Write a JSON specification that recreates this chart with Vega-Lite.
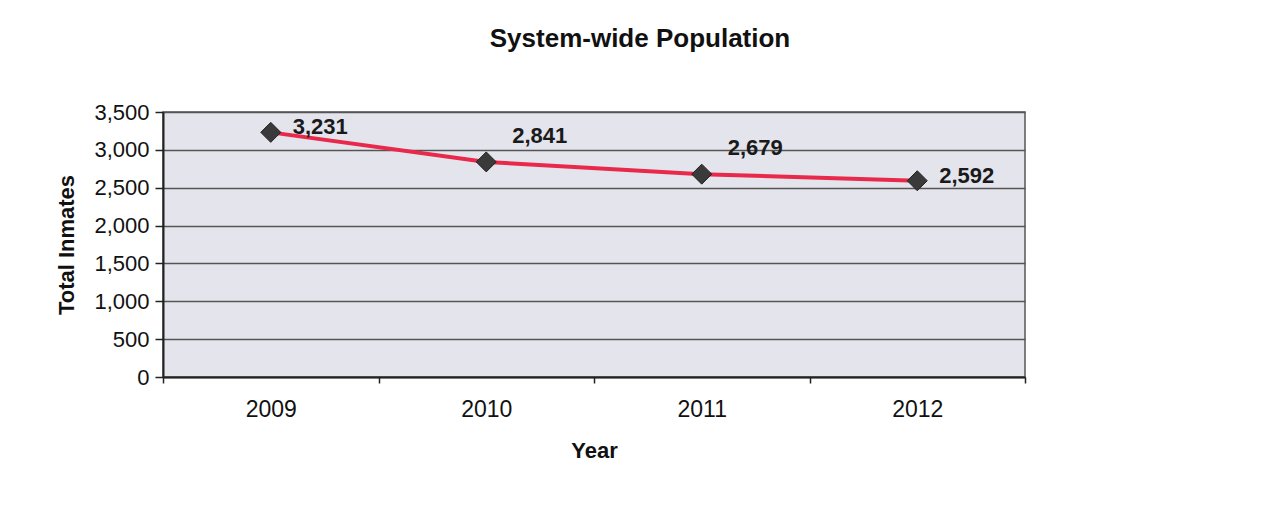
{
  "$schema": "https://vega.github.io/schema/vega-lite/v6.json",
  "autosize": {"type": "none"},
  "width": 862,
  "height": 265,
  "padding": {"left": 163, "top": 112, "right": 243, "bottom": 131},
  "background": "white",
  "title": {
    "text": "System-wide Population",
    "font": "Liberation Sans",
    "fontSize": 26,
    "fontWeight": "bold",
    "color": "#111111",
    "anchor": "middle",
    "baseline": "alphabetic",
    "offset": 28,
    "dx": 46
  },
  "config": {
    "view": {"fill": "#E4E4EC", "stroke": "#555555", "strokeWidth": 1.5},
    "font": "Liberation Sans"
  },
  "data": {
    "values": [
      {"Year": "2009", "Inmates": 3231},
      {"Year": "2010", "Inmates": 2841},
      {"Year": "2011", "Inmates": 2679},
      {"Year": "2012", "Inmates": 2592}
    ]
  },
  "encoding": {
    "x": {
      "field": "Year",
      "type": "ordinal",
      "scale": {"type": "band", "paddingInner": 0, "paddingOuter": 0},
      "axis": {
        "title": "Year",
        "titleFont": "Liberation Sans",
        "titleFontSize": 22,
        "titleFontWeight": "bold",
        "titleColor": "#111111",
        "titlePadding": 19,
        "labelFont": "Liberation Sans",
        "labelFontSize": 23,
        "labelColor": "#111111",
        "labelAngle": 0,
        "labelPadding": 15,
        "tickBand": "extent",
        "tickSize": 6,
        "tickColor": "#222222",
        "tickWidth": 1.5,
        "domainColor": "#222222",
        "domainWidth": 2,
        "grid": false
      }
    },
    "y": {
      "field": "Inmates",
      "type": "quantitative",
      "scale": {"domain": [0, 3500], "nice": false},
      "axis": {
        "title": "Total Inmates",
        "titleFont": "Liberation Sans",
        "titleFontSize": 22,
        "titleFontWeight": "bold",
        "titleColor": "#111111",
        "titlePadding": 15,
        "values": [0, 500, 1000, 1500, 2000, 2500, 3000, 3500],
        "format": ",d",
        "labelFont": "Liberation Sans",
        "labelFontSize": 22,
        "labelColor": "#111111",
        "labelPadding": 6,
        "tickSize": 8,
        "tickColor": "#222222",
        "tickWidth": 1.5,
        "domainColor": "#222222",
        "domainWidth": 2,
        "grid": true,
        "gridColor": "#555555",
        "gridWidth": 1.5
      }
    }
  },
  "layer": [
    {"mark": {"type": "line", "color": "#E8294B", "strokeWidth": 4}},
    {"mark": {"type": "point", "shape": "diamond", "filled": true, "size": 400, "color": "#3A3A3A", "opacity": 1, "stroke": "#222222", "strokeWidth": 1}},
    {
      "transform": [{"filter": "datum.Year == '2010' || datum.Year == '2011'"}],
      "mark": {"type": "text", "align": "left", "baseline": "middle", "dx": 26, "dy": -26, "font": "Liberation Sans", "fontSize": 22, "fontWeight": "bold", "color": "#1A1A1A"},
      "encoding": {"text": {"field": "Inmates", "type": "quantitative", "format": ","}}
    },
    {
      "transform": [{"filter": "datum.Year == '2009' || datum.Year == '2012'"}],
      "mark": {"type": "text", "align": "left", "baseline": "middle", "dx": 22, "dy": -5, "font": "Liberation Sans", "fontSize": 22, "fontWeight": "bold", "color": "#1A1A1A"},
      "encoding": {"text": {"field": "Inmates", "type": "quantitative", "format": ","}}
    }
  ]
}
